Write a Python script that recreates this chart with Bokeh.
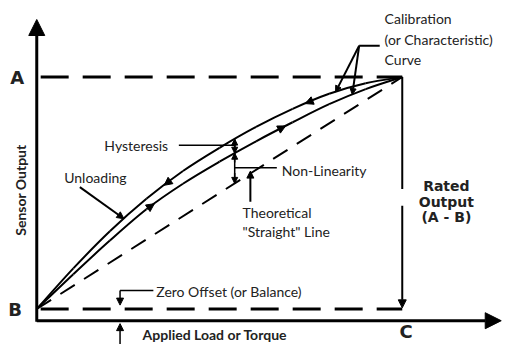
import numpy as np
from bokeh.plotting import figure
from bokeh.models import Range1d, Arrow, NormalHead, ColumnDataSource
from bokeh.core.properties import value
from bokeh.embed import file_html
from bokeh.resources import INLINE

# ---- data (normalised: load 0..1 = no load .. rated load C; output 0..1 = B .. A)
load_frac = [0, 0.1, 0.2, 0.3, 0.4, 0.5, 0.6, 0.7, 0.8, 0.9, 1.0]
unloading_output = [0, 0.175, 0.335, 0.475, 0.595, 0.695, 0.785, 0.863, 0.928, 0.973, 1.0]
loading_output = [0, 0.15, 0.295, 0.43, 0.54, 0.635, 0.723, 0.805, 0.883, 0.948, 1.0]
straight_load = [0, 1]
straight_output = [0, 1]
zero_output = 0.0    # B
rated_output = 1.0   # A
rated_load = 1.0     # C

# ---- layout helpers (reference-picture pixels -> diagram units)
def px(X):
    return (X - 38) / 373.0

def py(Y):
    return (318 - Y) / 238.0

W, H = 502, 344
p = figure(width=W, height=H, output_backend="svg", toolbar_location=None,
           x_range=Range1d(px(1.0), px(513.3)), y_range=Range1d(py(354.4), py(1.5)),
           x_axis_location=None, y_axis_location=None, min_border=0,
           outline_line_color=None, background_fill_color="white",
           border_fill_color="white")
p.grid.visible = False

K = "black"

def arrow(x0, y0, x1, y1, size=7, lw=1.5):
    head = NormalHead(size=size, fill_color=K, line_color=K, line_width=1)
    p.add_layout(Arrow(end=head, x_start=x0, y_start=y0, x_end=x1, y_end=y1,
                       line_color=K, line_width=lw))

def smooth(xs, ys, lw=2):
    # draw a smooth line through the points (Catmull-Rom as cubic Bezier)
    xs = np.asarray(xs, float); ys = np.asarray(ys, float)
    n = len(xs)
    d = dict(x0=[], y0=[], x1=[], y1=[], cx0=[], cy0=[], cx1=[], cy1=[])
    for i in range(n - 1):
        i0, i3 = max(i - 1, 0), min(i + 2, n - 1)
        d["x0"].append(xs[i]); d["y0"].append(ys[i])
        d["x1"].append(xs[i + 1]); d["y1"].append(ys[i + 1])
        d["cx0"].append(xs[i] + (xs[i + 1] - xs[i0]) / 6)
        d["cy0"].append(ys[i] + (ys[i + 1] - ys[i0]) / 6)
        d["cx1"].append(xs[i + 1] - (xs[i3] - xs[i]) / 6)
        d["cy1"].append(ys[i + 1] - (ys[i3] - ys[i]) / 6)
    p.bezier(x0="x0", y0="y0", x1="x1", y1="y1", cx0="cx0", cy0="cy0",
             cx1="cx1", cy1="cy1", source=ColumnDataSource(d), line_color=K,
             line_width=lw)

# axes with arrowheads
arrow(0, py(331), 0, py(21), size=16, lw=3)
arrow(0, py(330), px(512), py(330), size=16, lw=3)

# A and B dashed levels
p.line([px(42), rated_load], [rated_output, rated_output], line_width=3,
       line_color=K, line_dash="28 14")
p.line([px(42), rated_load], [zero_output, zero_output], line_width=3,
       line_color=K, line_dash="28 14")

# theoretical straight line
p.line(straight_load, straight_output, line_width=2, line_color=K, line_dash="17 11")

# calibration curves
smooth(load_frac, unloading_output)
smooth(load_frac, loading_output)

def on(curve, u):
    return float(np.interp(u, load_frac, curve))

# direction arrows on curves
for u in (px(168), px(312)):
    arrow(u + 0.02, on(unloading_output, u + 0.02), u, on(unloading_output, u), size=8, lw=0.1)
for u in (px(158), px(292)):
    arrow(u - 0.02, on(loading_output, u - 0.02), u, on(loading_output, u), size=8, lw=0.1)

# rated output vertical arrow (A -> B at C), with a small gap
p.line([rated_load, rated_load], [rated_output, py(195)], line_width=2, line_color=K)
arrow(rated_load, py(212), rated_load, zero_output + 0.005, size=8, lw=2)

# hysteresis / non-linearity double arrows
uh = px(240)
vu, vl = on(unloading_output, uh), on(loading_output, uh)
p.line([uh, uh], [vu, uh], line_width=1.5, line_color=K)
arrow(uh, vu - 0.035, uh, vu, size=6, lw=1.5)
arrow(uh, vl + 0.035, uh, vl, size=6, lw=1.5)
arrow(uh, vl - 0.04, uh, vl, size=6, lw=1.5)
arrow(uh, uh + 0.045, uh, uh, size=6, lw=1.5)
p.line([px(183), uh], [py(150), py(150)], line_width=1.5, line_color=K)
p.line([uh, px(283)], [py(173), py(173)], line_width=1.5, line_color=K)

# theoretical line pointer
ut = px(256)
arrow(ut, py(208), ut, ut + 0.01, size=7, lw=2)

# unloading pointer
uu = px(127)
arrow(px(82), py(193), uu, on(unloading_output, uu), size=7, lw=2)

# calibration curve pointers
p.line([px(367), px(388)], [py(48), py(48)], line_width=2, line_color=K)
for u, c in ((px(343), unloading_output), (px(360), loading_output)):
    arrow(px(367), py(48), u, on(c, u), size=6, lw=2)

# zero offset pointers
uz = px(123)
p.line([px(157), uz], [py(299), py(299)], line_width=1.5, line_color=K)
arrow(uz, py(299), uz, py(314), size=7, lw=1.5)
arrow(uz, py(362), uz, py(333), size=7, lw=1.5)

# ---- texts
def txt(items, font, size, style="normal", align="left", angle=0.0):
    src = ColumnDataSource(dict(x=[px(a) for a, b, t in items],
                                y=[py(b) for a, b, t in items],
                                t=[t for a, b, t in items]))
    p.text(x="x", y="y", text="t", source=src, text_font=value(font),
           text_font_size=f"{size}px", text_font_style=style, text_align=align,
           text_baseline="middle", text_color="#222222", angle=angle)

txt([(393, 20, "Calibration"), (393, 42, "(or Characteristic)"), (393, 62, "Curve"),
     (107, 150, "Hysteresis"), (66, 183, "Unloading"), (288, 176, "Non-Linearity"),
     (248, 219, "Theoretical"), (248, 238, "\"Straight\" Line"),
     (160, 300, "Zero Offset (or Balance)")], "Lato", 14)
txt([(146, 344, "Applied Load or Torque")], "Lato", 14, "bold")
txt([(21, 196, "Sensor Output")], "Lato", 14, "bold", "center", np.pi / 2)
txt([(456, 192, "Rated"), (456, 208, "Output"), (456, 224, "(A - B)")],
    "DejaVu Sans", 14, "bold", "center")
txt([(18, 80, "A"), (16, 318, "B"), (415, 341, "C")], "DejaVu Sans", 18, "bold", "center")

open("out.html", "w").write(file_html(p, INLINE))
